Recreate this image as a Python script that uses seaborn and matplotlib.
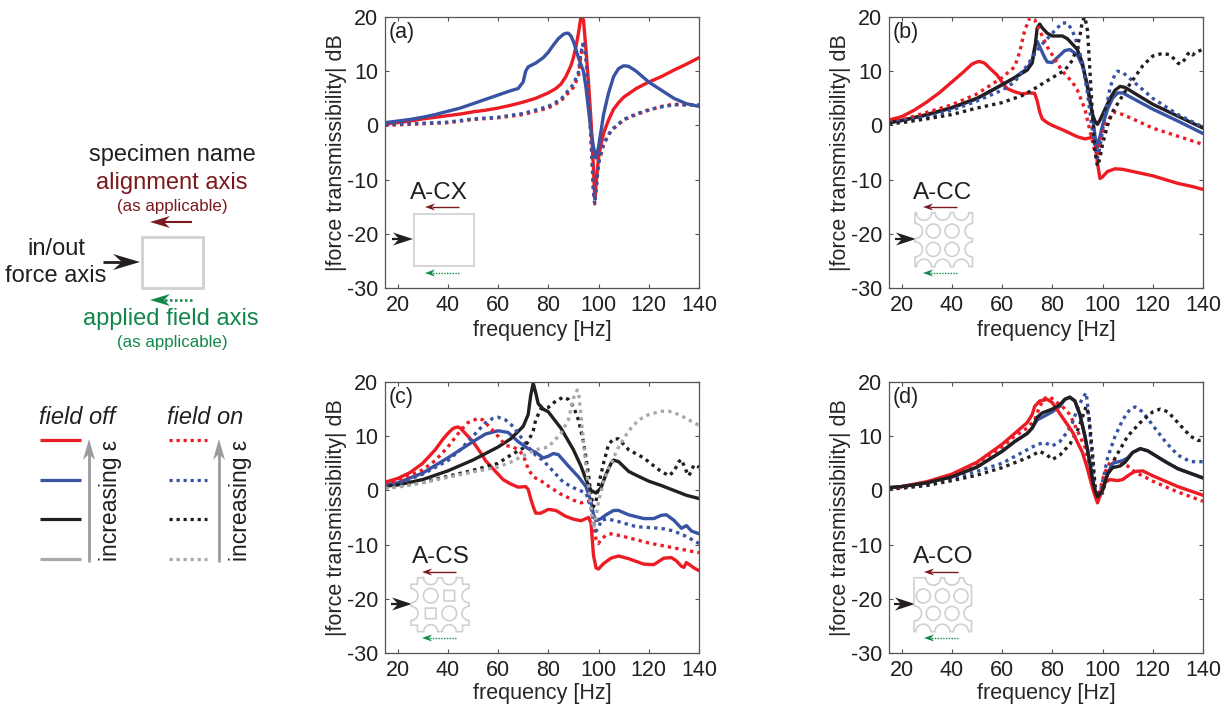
import matplotlib
matplotlib.use("Agg")
import matplotlib.pyplot as plt
import numpy as np
import seaborn as sns
from matplotlib.patches import Polygon, Rectangle

# Force transmissibility curves.
# a = A-CX, b = A-CC, c = A-CS, d = A-CO. Solid = field off, dotted = field on.
a_red_f = [15, 20, 25, 30, 35, 40, 45, 50, 55, 60, 65, 70, 75, 80, 83, 85, 87, 88, 89, 90, 91, 92, 93, 94, 95, 96, 97, 98, 98.5, 99, 100, 101, 102, 103, 104, 105, 106, 108, 110, 115, 120, 125, 130, 135, 140]
a_red_db = [0.3, 0.5, 0.8, 1.2, 1.5, 1.8, 2.1, 2.5, 2.8, 3.2, 3.7, 4.3, 5, 6, 6.8, 7.6, 9, 10, 11, 12.5, 14.5, 17, 20, 19.5, 14, 8, 1, -8, -13.5, -11, -6, -3.5, -1.5, -0.2, 1, 2, 3, 4.2, 5.2, 6.8, 8, 9, 10.2, 11.3, 12.5]
a_blue_f = [15, 25, 30, 35, 40, 45, 50, 55, 60, 65, 68, 70, 71, 72, 75, 78, 80, 82, 84, 86, 87, 88, 89, 90, 92, 94, 95, 96, 97, 98, 99, 100, 101, 102, 104, 106, 108, 110, 112, 115, 120, 125, 130, 135, 140]
a_blue_db = [0.5, 1.1, 1.5, 2, 2.6, 3.2, 4, 4.8, 5.6, 6.4, 6.8, 8, 10, 10.8, 11.5, 12.5, 13.5, 14.8, 16, 16.8, 17, 17, 16.5, 15.5, 12.5, 10, 7, 3, -1, -4, -6, -4, -1, 2, 6, 9, 10.5, 11, 10.9, 10, 8, 6.5, 5, 4, 3.5]
a_red_on_f = [15, 20, 30, 40, 50, 60, 70, 80, 85, 90, 92, 93, 94, 95, 96, 97, 98, 98.5, 99, 100, 102, 105, 110, 115, 120, 125, 130, 140]
a_red_on_db = [0, 0.1, 0.3, 0.5, 1.1, 1.4, 2, 3.2, 4.5, 7, 9, 13, 15.5, 13, 6, -2, -12, -14.5, -12, -7, -3.5, -1, 1, 2, 2.8, 3.5, 3.9, 3.7]
a_blue_on_f = [15, 20, 30, 40, 50, 60, 70, 80, 85, 90, 92, 93, 94, 95, 96, 97, 98, 98.5, 99, 100, 102, 105, 110, 115, 120, 125, 130, 140]
a_blue_on_db = [0.1, 0.2, 0.4, 0.6, 1.2, 1.5, 2.2, 3.5, 4.8, 7.6, 9.8, 13.5, 15, 12.5, 5.5, -2.5, -12.5, -14.5, -12, -7, -3.4, -0.9, 1.1, 2.1, 2.9, 3.4, 3.8, 3.8]

b_red_f = [15, 20, 25, 30, 35, 40, 45, 48, 50, 51, 53, 55, 58, 60, 62, 65, 68, 71, 73, 74, 75, 76, 78, 80, 85, 90, 93, 95, 96, 97, 98, 99, 100, 102, 105, 108, 115, 120, 125, 130, 135, 140]
b_red_db = [1, 1.6, 2.8, 4.3, 6, 8, 10, 11.3, 11.7, 11.8, 11.5, 10.6, 9.3, 8, 6.8, 6.2, 5.8, 6, 5.9, 4.5, 2.5, 1.2, 0.5, 0, -1, -2.1, -2.5, -2.3, -2, -3, -7, -9.8, -9.5, -8.5, -8, -8.1, -8.8, -9.3, -10, -10.7, -11.2, -11.8]
b_blue_f = [15, 20, 30, 40, 50, 60, 65, 70, 72, 73, 74, 75, 77, 78, 80, 82, 85, 87, 90, 92, 94, 96, 97, 98, 99, 100, 102, 104, 106, 108, 110, 120, 130, 140]
b_blue_db = [0.5, 0.9, 1.9, 3.2, 4.9, 7.5, 8.8, 10.5, 12, 14.5, 15.5, 14.5, 12.5, 11.7, 11.6, 12.5, 13.8, 14, 13, 11, 7.5, 2, -2, -4, -2, 0, 3, 5, 6, 6, 5.5, 3, 0.8, -1.5]
b_black_f = [15, 20, 30, 40, 50, 60, 65, 70, 72, 73, 74, 75, 76, 78, 80, 84, 86, 90, 92, 94, 96, 97, 98, 99, 101, 103, 105, 107, 109, 115, 120, 130, 140]
b_black_db = [0.5, 0.9, 2, 3.3, 5, 7.5, 8.8, 10.2, 11.5, 14, 18, 18.7, 18, 17, 16.5, 16.5, 16, 14, 11.5, 7, 2, 0.8, 0.2, 1, 3, 5, 6.5, 7.2, 7, 5.3, 3.9, 1.7, -0.5]
b_red_on_f = [15, 20, 30, 40, 50, 55, 60, 65, 67, 69, 71, 73, 75, 78, 80, 84, 88, 90, 93, 95, 97, 98, 99, 101, 103, 105, 108, 112, 120, 130, 140]
b_red_on_db = [0.7, 1, 2.4, 3.8, 5.8, 7.3, 8.8, 10.8, 13.5, 17.5, 19.8, 19.5, 17.5, 14.5, 13, 10, 8, 6.5, 3, -1, -5, -6, -3.5, 0, 1.5, 2.5, 2, 1.2, -0.5, -2, -3.5]
b_blue_on_f = [15, 20, 30, 40, 50, 60, 65, 68, 70, 72, 75, 78, 81, 84, 86, 88, 90, 92, 94, 96, 97, 98, 99, 100, 101, 103, 105, 106, 108, 110, 115, 120, 130, 140]
b_blue_on_db = [0.5, 0.8, 1.5, 2.8, 4.5, 6.5, 8, 10, 11, 12.5, 14.5, 16, 17.5, 18.9, 18.9, 17.5, 15, 11.5, 6, -1, -4, -6, -4, -1, 2, 7, 9.5, 10, 9.8, 9, 7, 5, 2, -0.3]
b_black_on_f = [15, 20, 30, 40, 50, 60, 68, 72, 75, 80, 85, 88, 90, 91, 92, 93, 94, 95, 96, 97, 98, 99, 100, 102, 104, 106, 108, 110, 113, 116, 120, 124, 127, 130, 131, 133, 134, 135, 136, 137, 140]
b_black_on_db = [0.3, 0.5, 1.2, 2, 3.2, 4.2, 5.5, 6.5, 7.4, 8.8, 10.2, 12, 14.5, 16.5, 19.3, 20, 17.5, 10, 2, -5, -7.5, -6, -3.5, 0, 2.5, 4, 5.5, 7, 9, 11, 12.8, 13.3, 13, 11.5, 11.3, 12.3, 13.2, 13.5, 13, 13.5, 14]

c_red_f = [15, 20, 25, 30, 35, 38, 40, 42, 43, 44, 45, 48, 50, 53, 55, 58, 60, 62, 65, 68, 71, 72, 73, 74, 75, 77, 80, 83, 87, 90, 93, 96, 97, 98, 99, 100, 102, 105, 108, 112, 118, 122, 126, 129, 131, 133, 134, 135, 138, 140]
c_red_db = [1.5, 2.2, 3.3, 5, 7.5, 9.4, 10.5, 11.4, 11.6, 11.7, 11.5, 10, 9, 7, 5.5, 4, 3, 2, 1.2, 0.6, 0.7, 0.2, -1.5, -3, -4.2, -4.2, -3.5, -3.7, -4.8, -5.3, -5.6, -5, -6, -12, -14.3, -14.5, -13.5, -12.5, -12.1, -12.6, -13.6, -13.7, -12.5, -12.4, -13, -14, -14.2, -13.3, -14.3, -14.8]
c_blue_f = [15, 20, 30, 40, 50, 55, 60, 64, 68, 72, 75, 78, 80, 82, 84, 88, 92, 95, 97, 98, 99, 101, 103, 106, 108, 112, 118, 122, 125, 127, 130, 133, 135, 137, 140]
c_blue_db = [1, 1.4, 3.2, 6, 9, 10.4, 11, 10.7, 9, 7.7, 7, 6, 6.3, 6.8, 6.6, 4.5, 2.5, 0.7, -2, -4.5, -5.6, -5.2, -4.5, -3.7, -3.7, -4.5, -5.2, -5.2, -4.6, -4.5, -5.5, -7, -6.5, -7.5, -8]
c_black_f = [15, 20, 30, 40, 50, 60, 65, 70, 72, 73, 74, 75, 76, 78, 80, 85, 90, 93, 95, 97, 99, 101, 103, 105, 106, 108, 112, 115, 120, 125, 130, 135, 140]
c_black_db = [0.8, 1, 2, 3.6, 5.6, 8, 9.5, 11.8, 14, 17.5, 19.8, 18, 16, 15, 14.5, 11.5, 7.5, 4.5, 2, 0, -0.5, 0.5, 3, 5, 5.6, 5.3, 3.5, 2.8, 1.7, 0.9, 0, -0.9, -1.5]
c_red_on_f = [15, 20, 30, 35, 40, 45, 48, 52, 54, 57, 60, 63, 66, 68, 70, 72, 74, 77, 80, 85, 90, 93, 96, 97, 98, 99, 100, 101, 103, 105, 110, 120, 130, 140]
c_red_on_db = [1, 1.8, 3.8, 5.5, 8, 11, 12.5, 13.3, 13, 11.5, 10, 8.3, 8, 7.5, 6.5, 4, 2.5, 1.8, 0.8, -0.7, -1.8, -2.3, -2, -3, -6, -9, -9.8, -9, -8.3, -8, -8.5, -9.7, -10.6, -11.5]
c_blue_on_f = [15, 20, 30, 40, 45, 50, 55, 58, 60, 63, 66, 68, 72, 75, 78, 82, 86, 90, 95, 97, 98, 99, 100, 101, 103, 106, 115, 125, 130, 135, 140]
c_blue_on_db = [0.8, 1.2, 3, 5.5, 7.5, 10, 12.5, 13.3, 13.5, 13, 11.8, 10.5, 8, 6.5, 5.5, 3.5, 1.5, 0.5, -0.5, -3, -6, -7.5, -7, -5.5, -5.3, -5.5, -6.7, -7, -7.5, -8.5, -9.8]
c_black_on_f = [15, 20, 30, 40, 50, 60, 65, 70, 72, 74, 75, 77, 80, 83, 86, 88, 90, 92, 94, 96, 97, 98, 99, 100, 102, 104, 106, 108, 112, 118, 124, 128, 130, 132, 133, 135, 136, 138, 140]
c_black_on_db = [0.5, 0.7, 1.5, 2.6, 3.7, 5, 6.5, 7.8, 9, 11, 13, 15, 15.3, 16.5, 17.2, 16.8, 15.5, 13, 9, 3, -1, -3, -2, 1, 5, 8.5, 9.5, 9.5, 7.5, 6, 3.8, 2.7, 3.5, 5.3, 5.7, 3.5, 2.7, 4.7, 4.3]
c_gray_on_f = [15, 20, 30, 40, 50, 60, 65, 70, 75, 80, 85, 88, 90, 91.5, 92, 93, 94, 95, 96, 97, 98, 99, 100, 102, 104, 106, 108, 112, 116, 120, 125, 128, 132, 136, 140]
c_gray_on_db = [0.4, 0.6, 1.4, 2.4, 3.4, 4.3, 5.2, 6.4, 7.5, 8, 10.5, 13, 17, 18.5, 18.3, 14, 9, 4.5, 1, -3, -7, -5, -2, 1.5, 4, 6, 8, 11, 13, 14, 14.6, 14.6, 14, 13, 12]

d_red_f = [15, 20, 30, 40, 50, 60, 65, 70, 72, 73, 75, 78, 80, 84, 88, 92, 94, 96, 97, 98, 99, 100, 101, 103, 106, 108, 111, 113, 116, 120, 130, 140]
d_red_db = [0.5, 0.7, 1.6, 3, 5.2, 8.5, 10.5, 12.5, 14, 15.5, 16.5, 16.8, 16.2, 13.5, 10.8, 7, 4, 0.5, -1, -2.3, -1, 0.5, 1.5, 2, 1.8, 2, 3, 3.5, 3.6, 2.7, 0.7, -0.9]
d_blue_f = [15, 20, 30, 40, 50, 60, 65, 70, 72, 74, 76, 80, 83, 85, 87, 89, 91, 93, 95, 96, 97, 98, 99, 100, 102, 104, 108, 110, 112, 115, 118, 125, 130, 140]
d_blue_db = [0.5, 0.7, 1.4, 2.5, 4.3, 7.2, 9, 10.5, 11.5, 13, 13.5, 14.5, 15.5, 16.8, 17.2, 16.5, 14, 10, 5, 2, 0, -1.5, -1, 0, 3, 5, 5.5, 6, 7, 7.7, 7.3, 5.3, 4, 2.3]
d_black_f = [15, 20, 30, 40, 50, 60, 65, 70, 72, 74, 76, 80, 83, 85, 87, 89, 91, 93, 95, 96, 97, 98, 100, 102, 104, 107, 109, 112, 115, 118, 125, 130, 140]
d_black_db = [0.5, 0.7, 1.4, 2.5, 4.3, 7.2, 9, 10.5, 11.5, 13.5, 14.3, 15, 15.8, 16.8, 17.2, 16.5, 14, 10, 5, 2, 0, -1.2, 0, 3, 4.2, 4.5, 5.2, 7, 7.7, 7.3, 5.3, 4, 2.3]
d_red_on_f = [15, 20, 30, 40, 50, 60, 65, 70, 73, 75, 77, 79, 81, 84, 87, 90, 93, 95, 97, 98, 99, 100, 102, 104, 107, 110, 113, 116, 120, 130, 140]
d_red_on_db = [0.4, 0.6, 1.5, 2.8, 5, 8, 10, 11.5, 13, 15.5, 17, 17.3, 16.5, 15.5, 14, 11, 8, 4, -0.5, -1.5, 0, 2, 4.5, 5.7, 5.3, 4.5, 3.3, 2.7, 1.7, -0.3, -2]
d_blue_on_f = [15, 20, 30, 40, 50, 60, 70, 74, 77, 80, 83, 86, 88, 90, 92, 93.5, 94, 95, 96, 97, 98, 99, 100, 102, 105, 108, 111, 113, 116, 120, 125, 130, 135, 140]
d_blue_on_db = [0.3, 0.5, 1.2, 2.2, 3.5, 5, 7.5, 8.5, 8.8, 8.2, 9, 10.8, 12.5, 15, 17, 18, 16, 11, 5, 0, -1.5, -0.5, 1.5, 6, 10, 13, 15, 15.4, 14.5, 12, 9, 6.5, 5.3, 5.3]
d_black_on_f = [15, 20, 30, 40, 50, 60, 70, 75, 78, 80, 83, 87, 90, 92, 93.5, 94.5, 96, 97, 98, 100, 102, 105, 110, 115, 120, 123, 126, 130, 135, 138, 140]
d_black_on_db = [0.3, 0.4, 0.9, 1.8, 2.8, 4.2, 6, 7.2, 6.5, 5.7, 6.5, 8.5, 11, 13.5, 15.5, 14, 7, 1, -1, -0.5, 3, 6, 10, 12.5, 14.5, 15, 14.5, 12.5, 10, 9.2, 9.3]

x_ticks = [20, 40, 60, 80, 100, 120, 140]
y_ticks = [-30, -20, -10, 0, 10, 20]
panel_tags = ["(a)", "(b)", "(c)", "(d)"]

RED = "#ed1c24"
BLUE = "#3953a4"
BLACK = "#231f20"
GRAY = "#a7a9ac"
DARKRED = "#7b1a1e"
GREEN = "#12874a"
OUTLINE = "#cfd0d2"
DOT = (0, (1, 1.25))
FS = 15.5

W, H = 1232, 704

sns.set_style("ticks")
plt.rcParams["font.family"] = ["Liberation Sans", "DejaVu Sans"]
plt.rcParams["text.color"] = BLACK
plt.rcParams["axes.unicode_minus"] = False

fig = plt.figure(figsize=(W / 100, H / 100), dpi=100)

# left, top, right, bottom of each panel in pixels, then drop of the x label
boxes = [(385, 17, 699, 288, 32), (889, 17, 1203, 288, 32), (385, 382, 699, 653, 30), (889, 382, 1203, 653, 30)]
curves = [
    [(a_red_f, a_red_db, RED, "-"), (a_blue_f, a_blue_db, BLUE, "-"),
     (a_red_on_f, a_red_on_db, RED, DOT), (a_blue_on_f, a_blue_on_db, BLUE, DOT)],
    [(b_red_f, b_red_db, RED, "-"), (b_blue_f, b_blue_db, BLUE, "-"), (b_black_f, b_black_db, BLACK, "-"),
     (b_red_on_f, b_red_on_db, RED, DOT), (b_blue_on_f, b_blue_on_db, BLUE, DOT), (b_black_on_f, b_black_on_db, BLACK, DOT)],
    [(c_red_f, c_red_db, RED, "-"), (c_blue_f, c_blue_db, BLUE, "-"), (c_black_f, c_black_db, BLACK, "-"),
     (c_red_on_f, c_red_on_db, RED, DOT), (c_blue_on_f, c_blue_on_db, BLUE, DOT),
     (c_black_on_f, c_black_on_db, BLACK, DOT), (c_gray_on_f, c_gray_on_db, GRAY, DOT)],
    [(d_red_on_f, d_red_on_db, RED, DOT), (d_blue_on_f, d_blue_on_db, BLUE, DOT), (d_black_on_f, d_black_on_db, BLACK, DOT),
     (d_blue_f, d_blue_db, BLUE, "-"), (d_red_f, d_red_db, RED, "-"), (d_black_f, d_black_db, BLACK, "-")],
]

for box, panel, tag in zip(boxes, curves, panel_tags):
    l, t, r, b, drop = box
    ax = fig.add_axes([l / W, 1 - b / H, (r - l) / W, (b - t) / H])
    for f, db, color, ls in panel:
        sns.lineplot(x=f, y=db, color=color, linestyle=ls, linewidth=2.4, sort=False,
                     estimator=None, errorbar=None, ax=ax)
    ax.set_xlim(15, 140)
    ax.set_ylim(-30, 20)
    ax.set_xticks(x_ticks)
    ax.set_yticks(y_ticks)
    ax.tick_params(direction="in", length=3, width=0.8, color="#555555", top=True, right=True,
                   labelsize=FS, labelcolor=BLACK, pad=5)
    for s in ax.spines.values():
        s.set_color("#555555")
        s.set_linewidth(0.9)
        s.set_visible(True)
    ax.set_xlabel("frequency [Hz]", fontsize=FS)
    ax.set_ylabel("|force transmissibility| dB", fontsize=FS)
    # label positions in axes fractions, measured from the panel's edges
    ax.xaxis.set_label_coords(0.5, -drop / (b - t), transform=ax.transAxes)
    ax.yaxis.set_label_coords(-0.121, 0.5, transform=ax.transAxes)
    ax.text(0.012, 0.943, tag, transform=ax.transAxes, fontsize=FS, va="center", ha="left")

# overlay in pixel coordinates for the schematic parts
ov = fig.add_axes([0, 0, 1, 1], zorder=5)
ov.set_xlim(0, W)
ov.set_ylim(H, 0)
ov.axis("off")
ov.patch.set_alpha(0)


def arrow(tail, tip, y, color, head=10, half=3.5, lw=1.0, ls="-", notch=0.7):
    # arrow head with barbs, shaft drawn behind
    d = 1 if tip > tail else -1
    ov.plot([tail, tip - d * head * notch], [y, y], color=color, lw=lw, ls=ls, solid_capstyle="butt")
    pts = [(tip, y), (tip - d * head, y - half), (tip - d * head * notch, y), (tip - d * head, y + half)]
    ov.add_patch(Polygon(pts, closed=True, fc=color, ec="none"))


def specimen(x0, y0, w, h, notches, circles=(), squares=(), corners=0):
    # outline comes from a distance field so the arcs join up by themselves
    xx, yy = np.meshgrid(np.linspace(-2, w + 2, 500), np.linspace(-2, h + 2, 500))
    field = np.minimum.reduce([xx, w - xx, yy, h - yy])
    for cx, cy, rad in list(notches) + list(circles):
        field = np.minimum(field, np.hypot(xx - cx, yy - cy) - rad)
    for cx, cy, rad in squares:
        field = np.minimum(field, np.maximum(abs(xx - cx), abs(yy - cy)) - rad)
    if corners:
        for cx in (0, w):
            for cy in (0, h):
                field = np.minimum(field, np.maximum(abs(xx - cx), abs(yy - cy)) - corners)
    ov.contour(xx + x0, yy + y0, field, levels=[0], colors=OUTLINE, linewidths=1.2)


def marks(red_tip, black_tip, y_red, y_black, y_green):
    arrow(red_tip + 34, red_tip, y_red, DARKRED, lw=1.0)
    arrow(red_tip + 34, red_tip, y_green, GREEN, lw=1.0, ls=(0, (1, 1)))
    arrow(black_tip - 21, black_tip, y_black, BLACK, head=20, half=6.5, lw=1.6)


ov.text(439, 193, "A-CX", fontsize=17.5, ha="center", va="center")
marks(425, 413, 207, 239, 273)
ov.add_patch(Rectangle((413.5, 213.5), 60.5, 52.5, fc="none", ec=OUTLINE, lw=1.2))

ov.text(943, 193, "A-CC", fontsize=17.5, ha="center", va="center")
marks(923, 916, 207, 239, 273)
specimen(915, 212.7, 57.5, 54,
         [(x, y, 7.5) for x in (9, 27.7, 46.3) for y in (0, 54)] + [(x, y, 7.5) for x in (0, 57.5) for y in (18.3, 36.7)],
         circles=[(x, y, 7) for x in (18.3, 37) for y in (18.3, 36.7)])

ov.text(441, 557, "A-CS", fontsize=17.5, ha="center", va="center")
marks(422, 412, 572, 604, 638)
specimen(411, 577.7, 58, 54,
         [(x, y, 7) for x in (19.7, 38.3) for y in (0, 54)] + [(x, y, 7) for x in (0, 58) for y in (18, 35.7)],
         circles=[(19.7, 18, 7.3), (38.3, 35.7, 7.3)], squares=[(38.3, 18, 5.3), (19.7, 35.7, 5.3)], corners=6.5)

ov.text(943, 557, "A-CO", fontsize=17.5, ha="center", va="center")
marks(924, 915, 572, 604, 638)
specimen(914, 577.7, 57.5, 54,
         [(x, 0, 7.5) for x in (19.3, 38, 57)] + [(x, 54, 7.5) for x in (9.3, 28.3, 47)] + [(0, 35.7, 7.5), (57.5, 35.7, 7.5)],
         circles=[(x, 18.3, 7) for x in (9.3, 28.3, 47)] + [(x, 35.7, 7) for x in (19.3, 38)])

# key at the upper left
ov.text(172, 155, "specimen name", fontsize=17, ha="center", va="center")
ov.text(172, 183, "alignment axis", fontsize=17, color=DARKRED, ha="center", va="center")
ov.text(172, 206, "(as applicable)", fontsize=12.2, color=DARKRED, ha="center", va="center")
ov.text(56, 249, "in/out", fontsize=17, ha="center", va="center")
ov.text(55.5, 276, "force axis", fontsize=17, ha="center", va="center")
ov.text(171, 319, "applied field axis", fontsize=17, color=GREEN, ha="center", va="center")
ov.text(172, 342, "(as applicable)", fontsize=12.2, color=GREEN, ha="center", va="center")
ov.add_patch(Rectangle((141.5, 236.5), 61, 51.5, fc="none", ec=OUTLINE, lw=2))
arrow(192, 150, 222, DARKRED, head=20, half=6, lw=1.5)
arrow(192, 150, 300, GREEN, head=20, half=6, lw=1.8, ls=(0, (1, 1)))
arrow(103, 140, 262, BLACK, head=27, half=8, lw=2, notch=0.67)

# key at the lower left
ov.text(77, 418, "field off", fontsize=17, style="italic", ha="center", va="center")
ov.text(205, 418, "field on", fontsize=17, style="italic", ha="center", va="center")
for y, color in zip((440, 480, 519, 559), (RED, BLUE, BLACK, GRAY)):
    ov.plot([40, 81], [y, y], color=color, lw=2.3, solid_capstyle="butt")
    ov.plot([169, 207], [y, y], color=color, lw=2.3, ls=(0, (1, 1.2)))
for x in (89, 219):
    ov.plot([x, x], [561, 450], color="#9b9c9f", lw=2)
    ov.add_patch(Polygon([(x, 439), (x - 6, 460), (x, 454), (x + 6, 460)], closed=True, fc="#9b9c9f", ec="none"))
    ov.text(x + 21, 500, "increasing ε", fontsize=16.6, rotation=90, ha="center", va="center")

fig.savefig("out.png", dpi=100, facecolor="white")
